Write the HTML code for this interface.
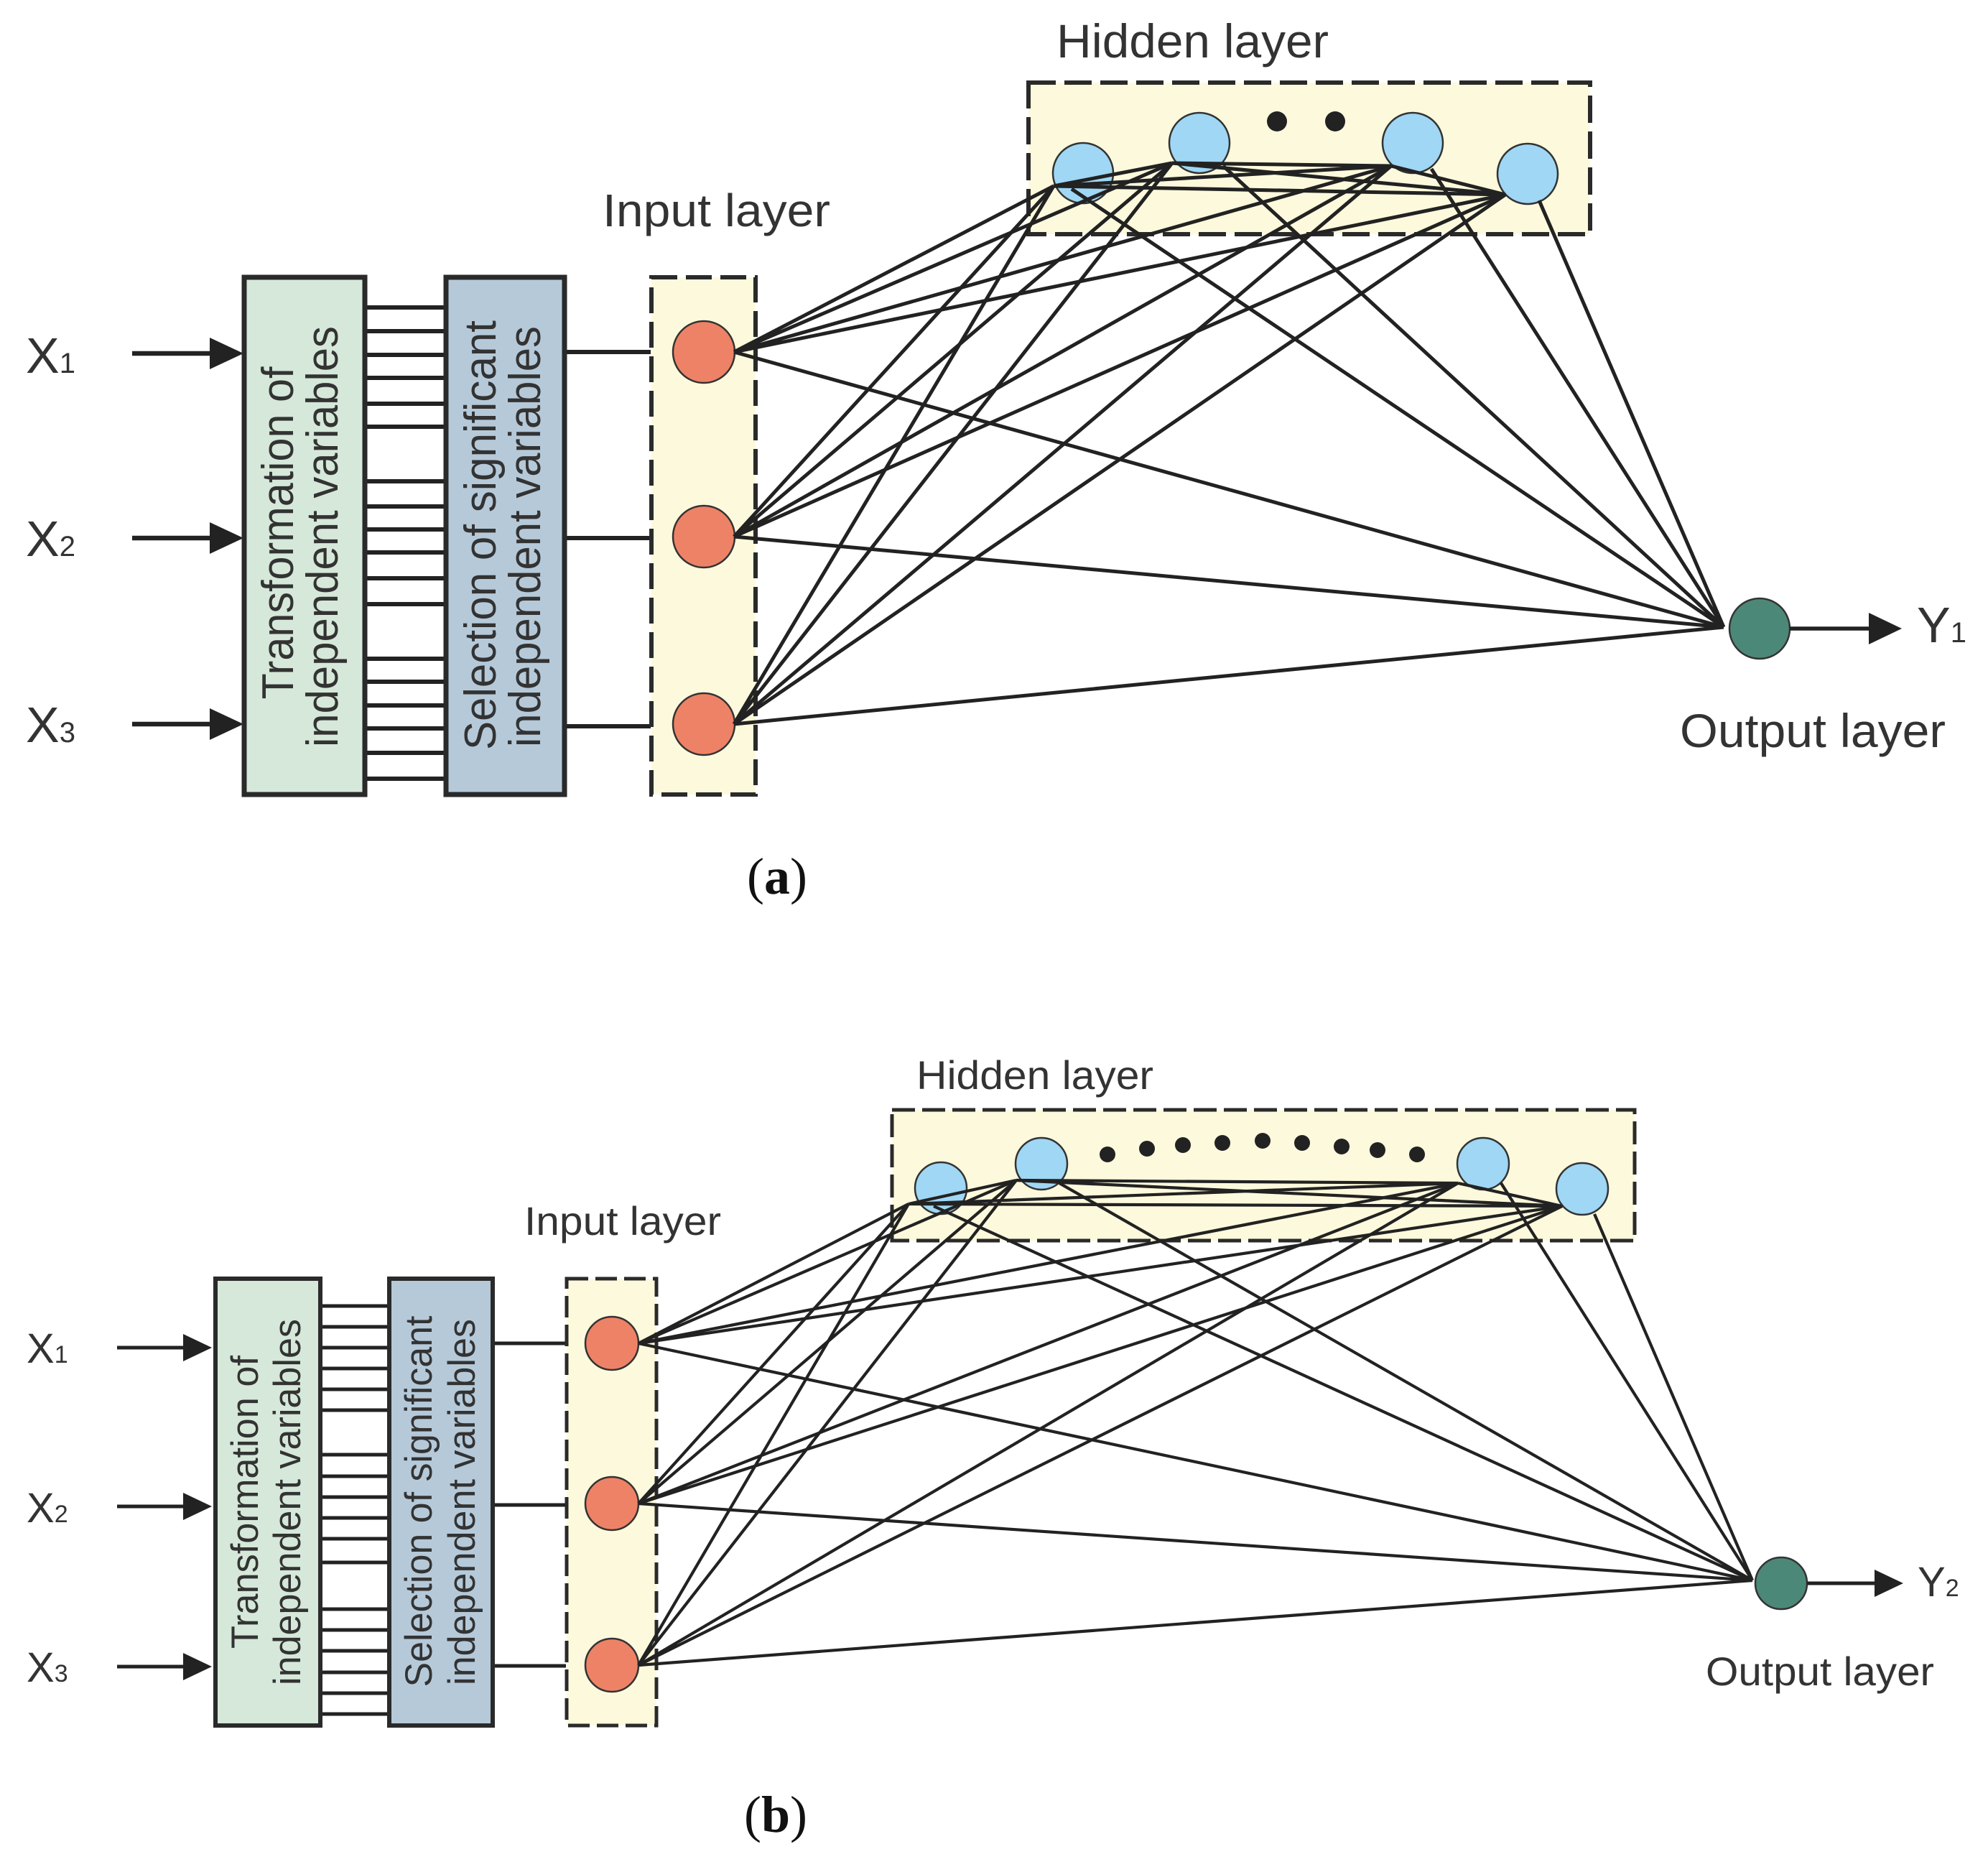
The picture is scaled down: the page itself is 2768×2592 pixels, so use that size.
<!DOCTYPE html>
<html><head><meta charset="utf-8"><style>html,body{margin:0;padding:0;background:#fff}svg{display:block}</style></head><body>
<svg width="2768" height="2592" viewBox="0 0 2768 2592" xmlns="http://www.w3.org/2000/svg" font-family="'Liberation Sans', sans-serif">
<rect width="2768" height="2592" fill="#fff"/>

<!-- ================= PANEL A ================= -->
<g fill="#333" font-size="70">
<text x="36" y="519">X<tspan font-size="40">1</tspan></text>
<text x="36" y="774">X<tspan font-size="40">2</tspan></text>
<text x="36" y="1033">X<tspan font-size="40">3</tspan></text>
</g>
<g stroke="#222" stroke-width="6.5">
<line x1="184" y1="492" x2="300" y2="492"/>
<line x1="184" y1="749" x2="300" y2="749"/>
<line x1="184" y1="1008" x2="300" y2="1008"/>
</g>
<g fill="#222">
<path d="M292,470 L339,492 L292,514 Z"/>
<path d="M292,727 L339,749 L292,771 Z"/>
<path d="M292,986 L339,1008 L292,1030 Z"/>
</g>
<g stroke="#222" stroke-width="6">
<line x1="511" y1="428" x2="618" y2="428"/><line x1="511" y1="461" x2="618" y2="461"/><line x1="511" y1="494" x2="618" y2="494"/><line x1="511" y1="526" x2="618" y2="526"/><line x1="511" y1="562" x2="618" y2="562"/><line x1="511" y1="594" x2="618" y2="594"/>
<line x1="511" y1="670" x2="618" y2="670"/><line x1="511" y1="705" x2="618" y2="705"/><line x1="511" y1="737" x2="618" y2="737"/><line x1="511" y1="769" x2="618" y2="769"/><line x1="511" y1="805" x2="618" y2="805"/><line x1="511" y1="841" x2="618" y2="841"/>
<line x1="511" y1="917" x2="618" y2="917"/><line x1="511" y1="949" x2="618" y2="949"/><line x1="511" y1="982" x2="618" y2="982"/><line x1="511" y1="1014" x2="618" y2="1014"/><line x1="511" y1="1048" x2="618" y2="1048"/><line x1="511" y1="1084" x2="618" y2="1084"/>
<line x1="789" y1="490" x2="906" y2="490"/><line x1="789" y1="749" x2="906" y2="749"/><line x1="789" y1="1011" x2="906" y2="1011"/>
</g>
<rect x="340" y="386" width="168" height="720" fill="#d5e8d9" stroke="#2a2a2a" stroke-width="7"/>
<rect x="621" y="386" width="165" height="720" fill="#b5c9d9" stroke="#2a2a2a" stroke-width="7"/>
<g fill="#333" font-size="62" text-anchor="middle">
<text transform="translate(408,742) rotate(-90)" textLength="463" lengthAdjust="spacingAndGlyphs">Transformation of</text>
<text transform="translate(470,747) rotate(-90)" textLength="586" lengthAdjust="spacingAndGlyphs">independent variables</text>
<text transform="translate(690,745) rotate(-90)" textLength="598" lengthAdjust="spacingAndGlyphs">Selection of significant</text>
<text transform="translate(752,747) rotate(-90)" textLength="586" lengthAdjust="spacingAndGlyphs">independent variables</text>
</g>
<rect x="907" y="386" width="145" height="720" fill="#fdf9dc" stroke="#2a2a2a" stroke-width="6" stroke-dasharray="36,12"/>
<text x="839" y="315" font-size="64" fill="#333" textLength="317" lengthAdjust="spacingAndGlyphs">Input layer</text>
<rect x="1432" y="115" width="782" height="211" fill="#fdf9dc" stroke="#2a2a2a" stroke-width="6" stroke-dasharray="38,12"/>
<text x="1471" y="80" font-size="66" fill="#333" textLength="379" lengthAdjust="spacingAndGlyphs">Hidden layer</text>
<g stroke="#333" stroke-width="2.5">
<circle cx="980" cy="490" r="43" fill="#ee8267"/>
<circle cx="980" cy="747" r="43" fill="#ee8267"/>
<circle cx="980" cy="1008" r="43" fill="#ee8267"/>
<circle cx="1508" cy="241" r="42" fill="#9fd7f4"/>
<circle cx="1670" cy="199" r="42" fill="#9fd7f4"/>
<circle cx="1967" cy="199" r="42" fill="#9fd7f4"/>
<circle cx="2127" cy="242" r="42" fill="#9fd7f4"/>
<circle cx="2450" cy="875" r="42" fill="#4c8878"/>
</g>
<circle cx="1778" cy="169" r="14" fill="#222"/>
<circle cx="1859" cy="169" r="14" fill="#222"/>
<g stroke="#222" stroke-width="5" fill="none">
<path d="M1022,490 L1467,259 M1022,490 L1632,227 M1022,490 L1937,231 M1022,490 L2096,271"/>
<path d="M1022,747 L1467,259 M1022,747 L1632,227 M1022,747 L1937,231 M1022,747 L2096,271"/>
<path d="M1022,1008 L1467,259 M1022,1008 L1632,227 M1022,1008 L1937,231 M1022,1008 L2096,271"/>
<path d="M1467,259 L1632,227 M1467,259 L1937,231 M1467,259 L2096,271 M1632,227 L1937,231 M1632,227 L2096,271 M1937,231 L2096,271"/>
<path d="M1492,263 L2400,873 M1703,231 L2400,873 M1993,235 L2400,873 M2143,279 L2400,873"/>
<path d="M1022,490 L2400,873 M1022,747 L2400,873 M1022,1008 L2400,873"/>
</g>
<line x1="2492" y1="875" x2="2610" y2="875" stroke="#222" stroke-width="5.5"/>
<path d="M2602,853 L2648,875 L2602,897 Z" fill="#222"/>
<text x="2669" y="894" font-size="70" fill="#333">Y<tspan font-size="40">1</tspan></text>
<text x="2339" y="1040" font-size="66" fill="#333" textLength="370" lengthAdjust="spacingAndGlyphs">Output layer</text>
<text x="1040" y="1244" font-family="'Liberation Serif', serif" font-size="72" fill="#111">(<tspan font-weight="bold">a</tspan>)</text>

<!-- ================= PANEL B ================= -->
<g fill="#333" font-size="58">
<text x="37" y="1897">X<tspan font-size="34">1</tspan></text>
<text x="37" y="2119">X<tspan font-size="34">2</tspan></text>
<text x="37" y="2341">X<tspan font-size="34">3</tspan></text>
</g>
<g stroke="#222" stroke-width="5">
<line x1="163" y1="1876" x2="260" y2="1876"/>
<line x1="163" y1="2097" x2="260" y2="2097"/>
<line x1="163" y1="2320" x2="260" y2="2320"/>
</g>
<g fill="#222">
<path d="M255,1857 L295,1876 L255,1895 Z"/>
<path d="M255,2078 L295,2097 L255,2116 Z"/>
<path d="M255,2301 L295,2320 L255,2339 Z"/>
</g>
<g stroke="#222" stroke-width="5">
<line x1="448" y1="1818" x2="539" y2="1818"/><line x1="448" y1="1847" x2="539" y2="1847"/><line x1="448" y1="1876" x2="539" y2="1876"/><line x1="448" y1="1905" x2="539" y2="1905"/><line x1="448" y1="1934" x2="539" y2="1934"/><line x1="448" y1="1963" x2="539" y2="1963"/>
<line x1="448" y1="2025" x2="539" y2="2025"/><line x1="448" y1="2055" x2="539" y2="2055"/><line x1="448" y1="2084" x2="539" y2="2084"/><line x1="448" y1="2113" x2="539" y2="2113"/><line x1="448" y1="2142" x2="539" y2="2142"/><line x1="448" y1="2175" x2="539" y2="2175"/>
<line x1="448" y1="2240" x2="539" y2="2240"/><line x1="448" y1="2269" x2="539" y2="2269"/><line x1="448" y1="2298" x2="539" y2="2298"/><line x1="448" y1="2328" x2="539" y2="2328"/><line x1="448" y1="2357" x2="539" y2="2357"/><line x1="448" y1="2386" x2="539" y2="2386"/>
<line x1="688" y1="1870" x2="788" y2="1870"/><line x1="688" y1="2095" x2="788" y2="2095"/><line x1="688" y1="2319" x2="788" y2="2319"/>
</g>
<rect x="300" y="1780" width="146" height="622" fill="#d5e8d9" stroke="#2a2a2a" stroke-width="6"/>
<rect x="542" y="1780" width="144" height="622" fill="#b5c9d9" stroke="#2a2a2a" stroke-width="6"/>
<g fill="#333" font-size="53" text-anchor="middle">
<text transform="translate(359,2091) rotate(-90)" textLength="408" lengthAdjust="spacingAndGlyphs">Transformation of</text>
<text transform="translate(418,2091) rotate(-90)" textLength="510" lengthAdjust="spacingAndGlyphs">independent variables</text>
<text transform="translate(601,2090) rotate(-90)" textLength="517" lengthAdjust="spacingAndGlyphs">Selection of significant</text>
<text transform="translate(661,2091) rotate(-90)" textLength="510" lengthAdjust="spacingAndGlyphs">independent variables</text>
</g>
<rect x="789" y="1780" width="125" height="622" fill="#fdf9dc" stroke="#2a2a2a" stroke-width="5" stroke-dasharray="30,10"/>
<text x="730" y="1719" font-size="56" fill="#333" textLength="274" lengthAdjust="spacingAndGlyphs">Input layer</text>
<rect x="1242" y="1545" width="1034" height="182" fill="#fdf9dc" stroke="#2a2a2a" stroke-width="5" stroke-dasharray="32,10"/>
<text x="1276" y="1516" font-size="56" fill="#333" textLength="330" lengthAdjust="spacingAndGlyphs">Hidden layer</text>
<g stroke="#333" stroke-width="2.5">
<circle cx="852" cy="1870" r="37" fill="#ee8267"/>
<circle cx="852" cy="2093" r="37" fill="#ee8267"/>
<circle cx="852" cy="2318" r="37" fill="#ee8267"/>
<circle cx="1310" cy="1654" r="36" fill="#9fd7f4"/>
<circle cx="1450" cy="1620" r="36" fill="#9fd7f4"/>
<circle cx="2065" cy="1620" r="36" fill="#9fd7f4"/>
<circle cx="2203" cy="1655" r="36" fill="#9fd7f4"/>
<circle cx="2480" cy="2204" r="36" fill="#4c8878"/>
</g>
<g fill="#222">
<circle cx="1542" cy="1607" r="11"/><circle cx="1597" cy="1599" r="11"/><circle cx="1647" cy="1594" r="11"/><circle cx="1702" cy="1591" r="11"/><circle cx="1758" cy="1588" r="11"/><circle cx="1813" cy="1591" r="11"/><circle cx="1868" cy="1596" r="11"/><circle cx="1918" cy="1601" r="11"/><circle cx="1973" cy="1607" r="11"/>
</g>
<g stroke="#222" stroke-width="4.2" fill="none">
<path d="M889,1870 L1265,1676 M889,1870 L1415,1643 M889,1870 L2030,1647 M889,1870 L2175,1679"/>
<path d="M889,2093 L1265,1676 M889,2093 L1415,1643 M889,2093 L2030,1647 M889,2093 L2175,1679"/>
<path d="M889,2318 L1265,1676 M889,2318 L1415,1643 M889,2318 L2030,1647 M889,2318 L2175,1679"/>
<path d="M1265,1676 L1415,1643 M1265,1676 L2030,1647 M1265,1676 L2175,1679 M1415,1643 L2030,1647 M1415,1643 L2175,1679 M2030,1647 L2175,1679"/>
<path d="M1300,1679 L2440,2200 M1475,1647 L2440,2200 M2090,1647 L2440,2200 M2220,1690 L2440,2200"/>
<path d="M889,1870 L2440,2200 M889,2093 L2440,2200 M889,2318 L2440,2200"/>
</g>
<line x1="2516" y1="2204" x2="2615" y2="2204" stroke="#222" stroke-width="5"/>
<path d="M2610,2185 L2650,2204 L2610,2223 Z" fill="#222"/>
<text x="2670" y="2222" font-size="58" fill="#333">Y<tspan font-size="34">2</tspan></text>
<text x="2375" y="2346" font-size="56" fill="#333" textLength="318" lengthAdjust="spacingAndGlyphs">Output layer</text>
<text x="1036" y="2550" font-family="'Liberation Serif', serif" font-size="72" fill="#111">(<tspan font-weight="bold">b</tspan>)</text>
</svg>
</body></html>
